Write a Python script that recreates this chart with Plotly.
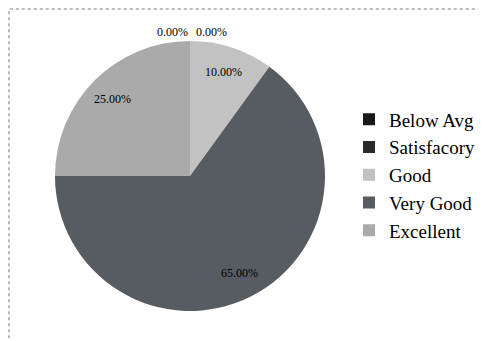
import math
import plotly.graph_objects as go

# Rating distribution
categories = ["Below Avg", "Satisfacory", "Good", "Very Good", "Excellent"]
shares = [0.0, 0.0, 10.0, 65.0, 25.0]
colors = ["#1a1a1a", "#2a2a2a", "#c2c2c2", "#575b62", "#aaaaaa"]

# the page puts the figure 8px in from the window corner
OFF = 8
W, H = 486 - OFF, 341 - OFF
cx, cy, R = 190 - OFF, 176 - OFF, 135  # pie centre / radius in figure pixels


def px2paper(px, py):
    return px / W, 1 - py / H


fig = go.Figure()
fig.add_trace(go.Pie(
    labels=categories,
    values=shares,
    sort=False,
    direction="clockwise",
    rotation=0,
    marker=dict(colors=colors, line=dict(width=0)),
    textinfo="none",
    hoverinfo="label+percent",
    domain=dict(x=[(cx - R) / W, (cx + R) / W], y=[1 - (cy + R) / H, 1 - (cy - R) / H]),
    showlegend=True,
))

# percentage labels, placed like the original (zero slices sit above the top)
total = sum(shares)
start = 0.0
for i, v in enumerate(shares):
    txt = f"{v / total * 100:.2f}%"
    if v == 0:
        px = cx - 18 if i == 0 else cx + 21
        py = cy - R - 9
    else:
        mid = (start + v / 2) / total * 2 * math.pi
        px = cx + 0.81 * R * math.sin(mid)
        py = cy - 0.81 * R * math.cos(mid)
    ax, ay = px2paper(px, py)
    fig.add_annotation(x=ax, y=ay, xref="paper", yref="paper",
                       xanchor="center", yanchor="middle",
                       text=txt, showarrow=False,
                       font=dict(family="Liberation Serif", size=12, color="black"))
    start += v

# dotted frame around the chart area
fig.add_shape(type="rect", xref="paper", yref="paper",
              x0=1 / W, x1=1.02, y0=-0.02, y1=1 - 1 / H,
              line=dict(color="#777777", width=1, dash="dot"))

fig.update_layout(
    width=W,
    height=H,
    margin=dict(l=0, r=0, t=0, b=0),
    paper_bgcolor="white",
    plot_bgcolor="white",
    font=dict(family="Liberation Serif", color="black"),
    legend=dict(x=(349 - OFF) / W, y=1 - (175 - OFF) / H, xanchor="left", yanchor="middle",
                font=dict(family="Liberation Serif", size=19, color="black"),
                traceorder="normal", bgcolor="rgba(0,0,0,0)"),
)

fig.write_html("out.html")
